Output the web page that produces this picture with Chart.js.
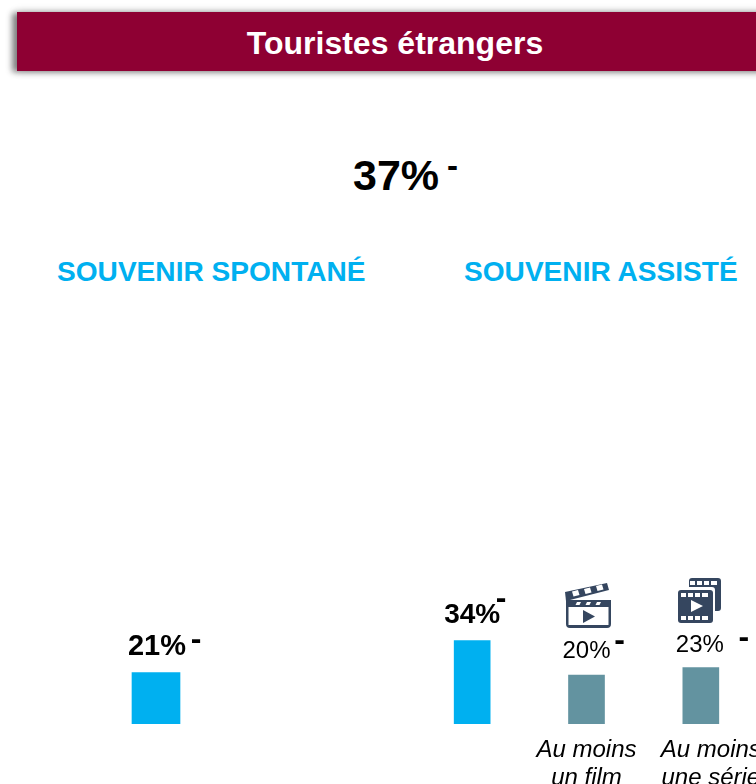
<!DOCTYPE html>
<html lang="fr">
<head>
<meta charset="utf-8">
<title>Touristes étrangers</title>
<script src="https://cdn.jsdelivr.net/npm/chart.js@4/dist/chart.umd.min.js"></script>
<style>
  html, body { margin: 0; padding: 0; background: #fff; }
  body { position: relative; width: 756px; height: 784px; overflow: hidden; font-family: "Liberation Sans", Arial, sans-serif; }
  .abs { position: absolute; white-space: nowrap; }
  #banner { left: 17px; top: 12px; width: 760px; height: 59px; background: #8E0033; box-shadow: -5px 1px 6px rgba(0,0,0,.45), 0 0 9px rgba(0,0,0,.18); }
  #bannerText { left: 17px; top: 13px; width: 756px; height: 59px; line-height: 61px; text-align: center; color: #fff; font-weight: bold; font-size: 32px; }
  #total { left: 353px; top: 149px; font-weight: bold; font-size: 43px; line-height: 52px; color: #000; }
  #totalDash { left: 447px; top: 146px; font-weight: bold; font-size: 33px; line-height: 40px; color: #000; }
  .heading { color: #00B0F0; font-weight: bold; font-size: 28.1px; line-height: 32px; top: 256px; }
  canvas { position: absolute; display: block; }
  svg { position: absolute; left: 0; top: 0; }
</style>
</head>
<body>
<div id="banner" class="abs"></div>
<div id="bannerText" class="abs">Touristes étrangers</div>
<div id="total" class="abs">37%</div>
<div id="totalDash" class="abs">-</div>
<div class="abs heading" style="left:57px">SOUVENIR SPONTANÉ</div>
<div class="abs heading" style="left:464px">SOUVENIR ASSISTÉ</div>

<canvas id="leftChart" width="312" height="196" style="left:0;top:528px"></canvas>
<canvas id="rightChart" width="343" height="270" style="left:415px;top:528px"></canvas>

<svg width="756" height="784" viewBox="0 0 756 784">
  <!-- clap -->
  <g fill="#35465F">
    <path d="M566 600h45v24a4 4 0 0 1-4 4h-37a4 4 0 0 1-4-4z M568.500 607v18h40v-18z" fill-rule="evenodd"/>
    <path d="M565 592 l42-9 2 7 -43 11z"/>
    <path d="M583 610l12 6.500-12 6.500z"/>
  </g>
  <g fill="#fff">
    <path d="M572 591.500l6-1.500 1.500 5-6 1.500z M584 589l6-1.500 1.500 5-6 1.500z M596 586l6-1.500 1.500 5-6 1.500z"/>
    <path d="M577 602h4l-1.500 3h-4z M587 602h4l-1.500 3h-4z M597 602h4l-1.500 3h-4z"/>
  </g>
  <!-- stack -->
  <g>
    <path d="M689 578h29a3 3 0 0 1 3 3v27a3 3 0 0 1-3 3h-3v-21a3 3 0 0 0-3-3h-23v-6a3 3 0 0 1 3-3z" fill="#35465F"/>
    <rect x="678" y="590" width="35" height="33" rx="3" fill="#35465F"/>
    <g fill="#fff">
      <rect x="690" y="581" width="5" height="4"/><rect x="697" y="581" width="5" height="4"/><rect x="704" y="581" width="5" height="4"/><rect x="711" y="581" width="6" height="4"/>
      <rect x="681" y="593" width="5" height="4"/><rect x="688" y="593" width="5" height="4"/><rect x="695" y="593" width="5" height="4"/><rect x="702" y="593" width="6" height="4"/>
      <rect x="681" y="616" width="5" height="4"/><rect x="688" y="616" width="5" height="4"/><rect x="695" y="616" width="5" height="4"/><rect x="702" y="616" width="6" height="4"/>
      <path d="M691 600l12 6-12 6z"/>
    </g>
  </g>
</svg>

<script>
const leftCategories = ['Souvenir spontané']
const leftValues = [21]
// leading spaces push the last label right of its bar, as in the original
const rightCategories = ['', ['Au moins', 'un film'], ['\u00a0\u00a0\u00a0Au moins', '\u00a0\u00a0\u00a0une série']]
const rightValues = [34, 20, 23]
const rightColors = ['#00B0F0', '#6393A0', '#6393A0']
const yMax = 80

// value label + trend dash above each bar
const barLabels = {
  id: 'barLabels',
  afterDatasetsDraw(chart, args, opts) {
    const ctx = chart.ctx
    const bars = chart.getDatasetMeta(0).data
    ctx.save()
    ctx.textAlign = 'center'
    ctx.textBaseline = 'alphabetic'
    ctx.fillStyle = '#000'
    bars.forEach((bar, i) => {
      const o = opts.offsets[i]
      ctx.font = (opts.bold[i] ? 'bold ' : '') + opts.size[i] + 'px "Liberation Sans", Arial, sans-serif'
      ctx.fillText(chart.data.datasets[0].data[i] + '%', bar.x + o.tx, bar.y + o.ty)
      ctx.font = 'bold 32px "Liberation Sans", Arial, sans-serif'
      ctx.fillText('-', bar.x + o.dx, bar.y + o.dy)
    })
    ctx.restore()
  },
}

new Chart(document.getElementById('leftChart'), {
  type: 'bar',
  plugins: [barLabels],
  data: {
    labels: leftCategories,
    datasets: [{ data: leftValues, backgroundColor: '#00B0F0', barThickness: 48, borderWidth: 0 }],
  },
  options: {
    responsive: false,
    animation: false,
    layout: { padding: 0 },
    scales: {
      x: { display: false },
      y: { display: false, min: 0, max: yMax },
    },
    plugins: {
      legend: { display: false },
      tooltip: { enabled: false },
      barLabels: {
        bold: [true],
        size: [29],
        offsets: [{ tx: 1, ty: -18, dx: 40, dy: -24 }],
      },
    },
  },
})

new Chart(document.getElementById('rightChart'), {
  type: 'bar',
  plugins: [barLabels],
  data: {
    labels: rightCategories,
    datasets: [{ data: rightValues, backgroundColor: rightColors, barThickness: 36, borderWidth: 0 }],
  },
  options: {
    responsive: false,
    animation: false,
    layout: { padding: 0 },
    scales: {
      x: {
        border: { display: false },
        grid: { display: false, drawTicks: false },
        afterFit(scale) {
          scale.height = 74
          // wide edge labels must not squeeze the plot
          scale.paddingLeft = 0
          scale.paddingRight = 0
        },
        ticks: {
          autoSkip: false,
          maxRotation: 0,
          minRotation: 0,
          padding: 12,
          color: '#000',
          font: { family: '"Liberation Sans", Arial, sans-serif', size: 24, style: 'italic', lineHeight: 1.17 },
        },
      },
      y: { display: false, min: 0, max: yMax },
    },
    plugins: {
      legend: { display: false },
      tooltip: { enabled: false },
      barLabels: {
        bold: [true, false, false],
        size: [28, 24, 24],
        offsets: [
          { tx: 0, ty: -18, dx: 29, dy: -33 },
          { tx: 0, ty: -17, dx: 33, dy: -25 },
          { tx: -1, ty: -16, dx: 43, dy: -21 },
        ],
      },
    },
  },
})
</script>
</body>
</html>
